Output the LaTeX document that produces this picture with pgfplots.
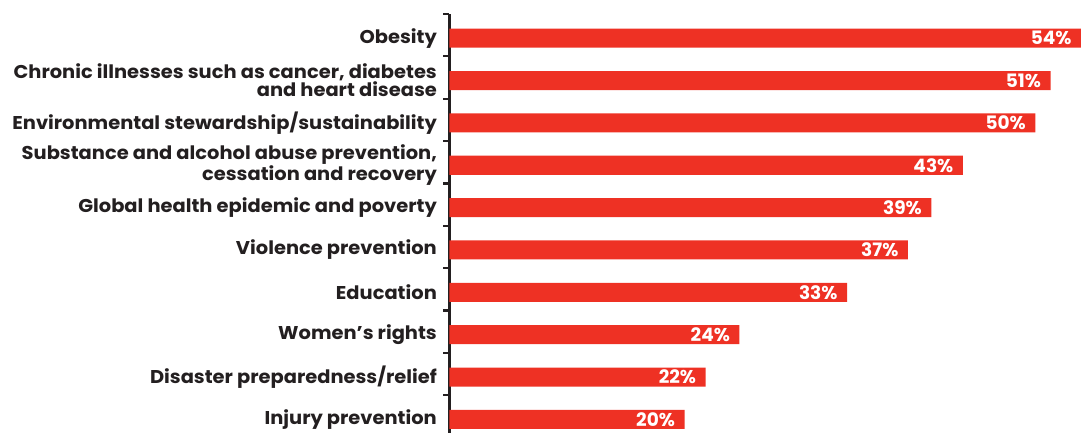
\documentclass[border=0pt]{standalone}
\usepackage{pgfplots}
\pgfplotsset{compat=1.18}
\usepackage{fontspec}
\setmainfont{Poppins}
\definecolor{barred}{HTML}{EE3124}
\definecolor{txt}{HTML}{231F20}
\begin{document}
\begin{tikzpicture}
\begin{axis}[
  scale only axis,
  width=631pt, height=419pt,
  xbar, bar width=19pt,
  xmin=0, xmax=54,
  ymin=-0.57, ymax=9.33,
  y dir=reverse,
  axis x line=none,
  axis y line*=left,
  y axis line style={line width=2.2pt, txt, -},
  ytick={0,...,9},
  yticklabels={
    Obesity,
    {Chronic illnesses such as cancer, diabetes\\and heart disease},
    Environmental stewardship/sustainability,
    {Substance and alcohol abuse prevention,\\cessation and recovery},
    Global health epidemic and poverty,
    Violence prevention,
    Education,
    Women’s rights,
    Disaster preparedness/relief,
    Injury prevention},
  yticklabel style={font=\fontsize{18.5}{15.5}\selectfont\bfseries\addfontfeature{FakeStretch=1.05}, text=txt, align=right, xshift=-9pt},
  major tick length=0pt,
  extra y ticks={-0.57,0.43,1.43,2.43,3.43,4.43,5.43,6.43,7.43,8.43},
  extra y tick labels={},
  extra y tick style={major tick length=6pt, tick style={line width=2.2pt, txt}},
  tick align=outside,
  point meta=explicit,
  nodes near coords={\pgfmathprintnumber[assume math mode=true]{\pgfplotspointmeta}\%},
  nodes near coords style={anchor=east, text=white, font=\fontsize{18.5}{18.5}\selectfont\bfseries, xshift=-6pt},
  clip=false,
]
\addplot[fill=barred, draw=none] coordinates {
(54,0) [54]
(51.4,1) [51]
(50.1,2) [50]
(43.9,3) [43]
(41.2,4) [39]
(39.2,5) [37]
(34.0,6) [33]
(24.8,7) [24]
(21.9,8) [22]
(20.1,9) [20]};
\end{axis}
\pgfresetboundingbox
\useasboundingbox ([xshift=-449pt]current axis.south west) rectangle ([yshift=14pt]current axis.north east);
\end{tikzpicture}
\end{document}
